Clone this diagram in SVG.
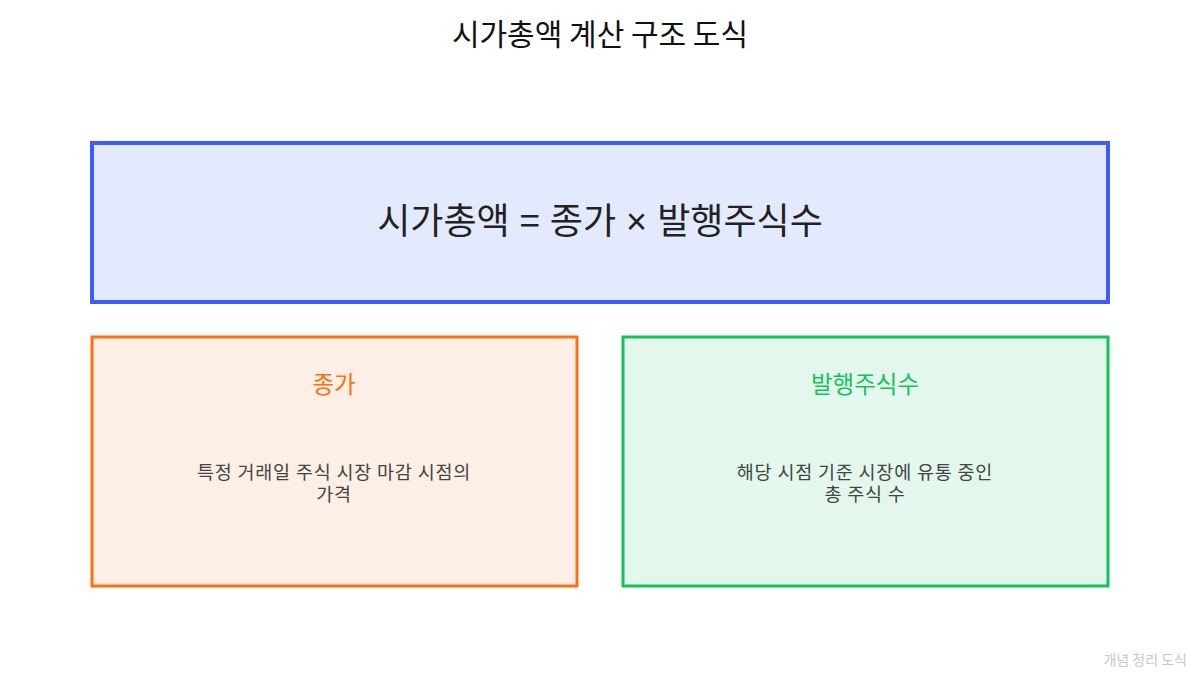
<svg xmlns="http://www.w3.org/2000/svg" width="1200" height="675" viewBox="0 0 1200 675">
<style>
text{font-family:"Noto Sans CJK KR","Noto Sans",sans-serif;text-anchor:middle}
.title{font-size:30px;fill:#111}
.main{font-size:36px;fill:#222;word-spacing:2px}
.x{font-family:"Liberation Sans",sans-serif}
.sub{font-size:23.5px}
.body{font-size:18.5px;fill:#444;letter-spacing:0.8px}
.foot{font-size:14px;fill:#c8c8c8;text-anchor:end}
</style>
<rect width="1200" height="675" fill="#ffffff"/>
<text class="title" x="600" y="45">시가총액 계산 구조 도식</text>
<g id="formula">
<rect x="92" y="143" width="1016" height="159" fill="#E4EAFD" stroke="#3F5BFF" stroke-width="4"/>
<text class="main" x="600" y="234">시가총액 = 종가 <tspan class="x">×</tspan> 발행주식수</text>
</g>
<g id="closing-price">
<rect x="92" y="337" width="485" height="249" fill="#FDEFE5" stroke="#FF6F0F" stroke-width="3"/>
<text class="sub" x="334" y="393" fill="#FF6F0F">종가</text>
<text class="body" x="334" y="479">특정 거래일 주식 시장 마감 시점의</text>
<text class="body" x="334" y="501">가격</text>
</g>
<g id="shares">
<rect x="623" y="337" width="485" height="249" fill="#E3F7EC" stroke="#13C35A" stroke-width="3"/>
<text class="sub" x="865" y="393" fill="#13C35A">발행주식수</text>
<text class="body" x="865" y="479">해당 시점 기준 시장에 유통 중인</text>
<text class="body" x="865" y="501">총 주식 수</text>
</g>
<g id="connectors"></g>
<text class="foot" x="1187" y="665">개념 정리 도식</text>
</svg>
